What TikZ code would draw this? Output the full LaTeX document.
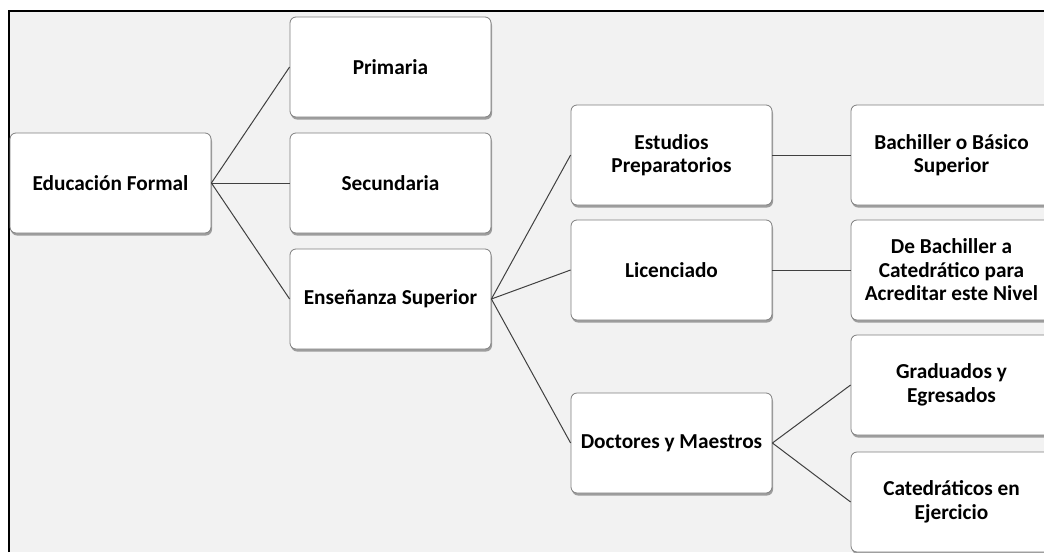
\documentclass[tikz,border=0pt]{standalone}
\usepackage{fontspec}
\setmainfont{Carlito}
\usepackage{xcolor}
\definecolor{canvas}{HTML}{F2F2F2}
\definecolor{boxline}{HTML}{7F7F7F}
\definecolor{linkline}{HTML}{404040}
\usepackage{tikz}
\usetikzlibrary{positioning,shadows}

\begin{document}
\begin{tikzpicture}[x=1pt, y=1pt,
    every node/.style={font=\fontsize{21.3}{23.5}\selectfont\bfseries},
    box/.style={draw=boxline, fill=white, rounded corners=6pt,
                line width=0.8pt, minimum width=201pt, minimum height=100pt,
                align=center, inner sep=2pt,
                drop shadow={shadow xshift=1pt, shadow yshift=-2.5pt,
                             fill=black, opacity=0.35}},
    link/.style={draw=linkline, line width=1pt}]
  \clip (0,0) rectangle (1044,-552);
  \fill[white] (0,0) rectangle (1044,-552);
  \fill[canvas] (9,-11) rectangle (1044,-552);
  \draw[line width=2.6pt] (9,-552) -- (9,-11) -- (1044,-11);
  % level 1 and 2
  \node[box] (edu)  at (110.5,-183) {Educación Formal};
  \node[box] (prim) at (390.5,-67)  {Primaria};
  \node[box] (sec)  at (390.5,-183) {Secundaria};
  \node[box] (ens)  at (390.5,-299) {Enseñanza Superior};
  % level 3
  \node[box] (est)  at (671.5,-155) {Estudios\\Preparatorios};
  \node[box] (lic)  at (671.5,-270) {Licenciado};
  \node[box] (doc)  at (671.5,-443) {Doctores y Maestros};
  % level 4
  \node[box] (bach) at (951.5,-155) {Bachiller o Básico\\Superior};
  \node[box] (acr)  at (951.5,-270) {De Bachiller a\\Catedrático para\\Acreditar este Nivel};
  \node[box] (grad) at (951.5,-385) {Graduados y\\Egresados};
  \node[box] (cat)  at (951.5,-502) {Catedráticos en\\Ejercicio};
  \draw[link] (edu.east) -- (prim.west);
  \draw[link] (edu.east) -- (sec.west);
  \draw[link] (edu.east) -- (ens.west);
  \draw[link] (ens.east) -- (est.west);
  \draw[link] (ens.east) -- (lic.west);
  \draw[link] (ens.east) -- (doc.west);
  \draw[link] (est.east) -- (bach.west);
  \draw[link] (lic.east) -- (acr.west);
  \draw[link] (doc.east) -- (grad.west);
  \draw[link] (doc.east) -- (cat.west);
\end{tikzpicture}
\end{document}
